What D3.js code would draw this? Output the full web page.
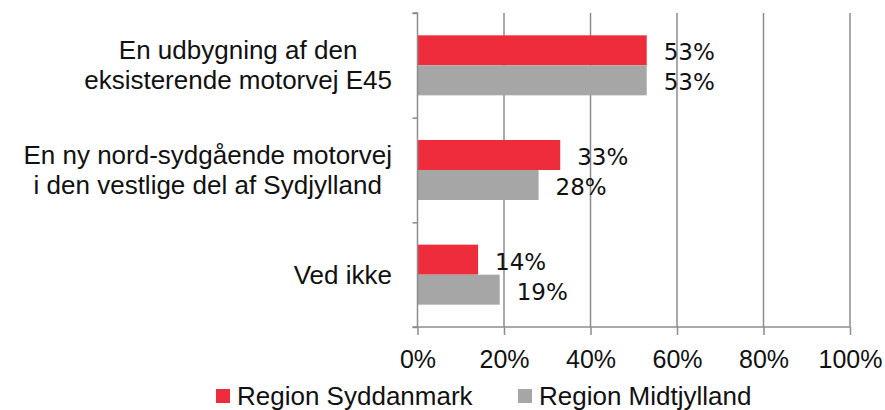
<!DOCTYPE html>
<html><head><meta charset="utf-8">
<script src="https://cdn.jsdelivr.net/npm/d3@7/dist/d3.min.js"></script>
<style>body{margin:0;background:#fff;}svg{display:block;}</style>
</head><body>
<svg id="chart" width="885" height="410"></svg>
<script>
const categories = [
  ["En udbygning af den", "eksisterende motorvej E45"],
  ["En ny nord-sydgående motorvej", "i den vestlige del af Sydjylland"],
  ["Ved ikke"]
];
const seriesNames = ["Region Syddanmark", "Region Midtjylland"];
const syddanmark = [0.53, 0.33, 0.14];
const midtjylland = [0.53, 0.28, 0.19];
const seriesValues = [syddanmark, midtjylland];
const seriesColors = ["#EE2C3C", "#A6A6A6"];
const xTicks = [0, 0.2, 0.4, 0.6, 0.8, 1.0];
const xTickLabels = ["0%", "20%", "40%", "60%", "80%", "100%"];

(function () {
const svg = d3.select("#chart");
const pLeft = 417.5, pRight = 850, pTop = 13, pBottom = 327;
const x = d3.scaleLinear().domain([0, 1]).range([pLeft, pRight]);
const y = d3.scaleBand().domain(d3.range(categories.length)).range([pTop, pBottom]).padding(0);
const gridColor = "#8C8C8C";
const font = "Liberation Sans, Arial, sans-serif";

// gridlines
svg.append("g").selectAll("line").data(xTicks.slice(1)).join("line")
  .attr("x1", d => x(d)).attr("x2", d => x(d))
  .attr("y1", pTop).attr("y2", pBottom)
  .attr("stroke", gridColor).attr("stroke-width", 1.5);

// bars
const groupH = 60;
categories.forEach((c, i) => {
  const cy = y(i) + y.bandwidth() / 2;
  const inner = d3.scaleBand().domain(d3.range(seriesNames.length)).range([cy - groupH / 2, cy + groupH / 2]).padding(0);
  seriesValues.forEach((vals, s) => {
    svg.append("rect")
      .attr("x", x(0)).attr("y", inner(s))
      .attr("width", x(vals[i]) - x(0)).attr("height", inner.bandwidth())
      .attr("fill", seriesColors[s]);
    svg.append("text")
      .attr("x", x(vals[i]) + 17).attr("y", inner(s) + inner.bandwidth() / 2 + 2)
      .attr("dominant-baseline", "central")
      .attr("font-family", "DejaVu Sans, sans-serif").attr("font-size", 23)
      .attr("fill", "#111")
      .text(Math.round(vals[i] * 100) + "%");
  });
});

// y axis line + ticks
const yAxis = d3.axisLeft(d3.scaleLinear().domain([0, categories.length]).range([pBottom, pTop]))
  .tickValues(d3.range(categories.length + 1)).tickSize(5).tickFormat("");
const ya = svg.append("g").attr("transform", `translate(${pLeft},0)`).call(yAxis);
ya.selectAll("path,line").attr("stroke", gridColor).attr("stroke-width", 1.5);
ya.select("path").attr("d", `M-5,${pTop}H0V${pBottom}H-5`);

// x axis
const xAxis = d3.axisBottom(x).tickValues(xTicks).tickSize(8).tickFormat((d, i) => xTickLabels[i]);
const xa = svg.append("g").attr("transform", `translate(0,${pBottom})`).call(xAxis);
xa.selectAll("path,line").attr("stroke", gridColor).attr("stroke-width", 1.5);
xa.select("path").attr("d", `M${pLeft},0H${pRight}`);
xa.selectAll("text").attr("font-family", font).attr("font-size", 25).attr("fill", "#111")
  .attr("y", 0).attr("dy", null).attr("transform", "translate(0,41)");

// category labels (centered block, right-aligned to x=392)
categories.forEach((lines, i) => {
  const cy = y(i) + y.bandwidth() / 2;
  const g = svg.append("g");
  const ts = lines.map((ln, j) => g.append("text")
    .attr("y", cy + (j - (lines.length - 1) / 2) * 30)
    .attr("dominant-baseline", "central")
    .attr("text-anchor", "middle")
    .attr("font-family", font).attr("font-size", 26).attr("fill", "#111")
    .text(ln));
  const w = d3.max(ts, t => t.node().getComputedTextLength());
  ts.forEach(t => t.attr("x", 392 - w / 2));
});

// legend
const legendX = [216, 518];
seriesNames.forEach((n, s) => {
  svg.append("rect").attr("x", legendX[s]).attr("y", 389).attr("width", 14).attr("height", 14)
    .attr("fill", seriesColors[s]);
  svg.append("text").attr("x", legendX[s] + 21).attr("y", 396)
    .attr("dominant-baseline", "central")
    .attr("font-family", font).attr("font-size", 26).attr("fill", "#111").text(n);
});
})();
</script>
</body></html>
